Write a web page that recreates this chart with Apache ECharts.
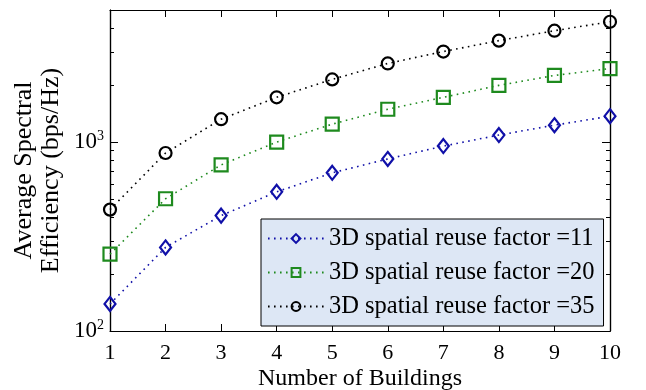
<!DOCTYPE html>
<html>
<head>
<meta charset="utf-8">
<script src="https://cdn.jsdelivr.net/npm/echarts@6/dist/echarts.min.js"></script>
<style>
  html, body { margin: 0; padding: 0; background: #fff; }
  #chart-container { width: 646px; height: 390px; }
</style>
</head>
<body>
<div id="chart-container"></div>
<script>
var buildings = [1, 2, 3, 4, 5, 6, 7, 8, 9, 10];
var seriesNames = ['3D spatial reuse factor =11', '3D spatial reuse factor =20', '3D spatial reuse factor =35'];
var reuse11 = [139, 277, 408, 545, 687, 814, 952, 1089, 1229, 1370];
var reuse20 = [255, 501, 757, 1000, 1244, 1492, 1725, 1995, 2252, 2450];
var reuse35 = [439, 875, 1321, 1725, 2146, 2606, 3013, 3442, 3885, 4334];
var yMajorTicks = [100, 1000];
var yMinorTicks = [200, 300, 400, 500, 600, 700, 800, 900, 2000, 3000, 4000, 5000];

var serif = 'Liberation Serif';
var dom = document.getElementById('chart-container');
var myChart = echarts.init(dom, null, { renderer: 'canvas' });

function pairs(ys) {
    return buildings.map(function (x, i) { return [x, ys[i]]; });
}

function yAxisDef(pos, ticks, len, withLabels) {
    return {
        type: 'log',
        position: pos,
        min: 100,
        max: 5000,
        logBase: 10,
        axisLine: { show: true, lineStyle: { color: '#000', width: 1.2 } },
        axisTick: { show: true, inside: true, length: len, customValues: ticks,
            lineStyle: { color: '#000', width: 1 } },
        splitLine: { show: false },
        minorTick: { show: false },
        axisLabel: withLabels ? {
            show: true,
            customValues: yMajorTicks,
            margin: 6,
            formatter: function (v) {
                return '{b|10}{s|' + Math.round(Math.log10(v)) + '}';
            },
            rich: {
                b: { fontFamily: serif, fontSize: 23, color: '#000', lineHeight: 26 },
                s: { fontFamily: serif, fontSize: 14, color: '#000', verticalAlign: 'top', lineHeight: 14 }
            }
        } : { show: false },
        name: withLabels ? 'Average Spectral\nEfficiency (bps/Hz)' : '',
        nameLocation: 'middle',
        nameMoveOverlap: false,
        nameGap: 45,
        nameTextStyle: { fontFamily: serif, fontSize: 26, color: '#000', lineHeight: 27 }
    };
}

function xAxisDef(pos, withLabels) {
    return {
        type: 'value',
        position: pos,
        min: 1,
        max: 10,
        interval: 1,
        axisLine: { show: true, lineStyle: { color: '#000', width: 1.2 } },
        axisTick: { show: true, inside: true, length: 7, lineStyle: { color: '#000', width: 1 } },
        splitLine: { show: false },
        axisLabel: withLabels ? { show: true, fontFamily: serif, fontSize: 22, color: '#000', margin: 11 } : { show: false },
        name: withLabels ? 'Number of Buildings' : '',
        nameLocation: 'middle',
        nameMoveOverlap: false,
        nameGap: 36,
        nameTextStyle: { fontFamily: serif, fontSize: 24, color: '#000' }
    };
}

function lineSeries(name, data, color, symbol, size) {
    return {
        name: name,
        type: 'line',
        xAxisIndex: 0,
        yAxisIndex: 0,
        data: pairs(data),
        symbol: symbol,
        symbolSize: size,
        showAllSymbol: true,
        color: color,
        lineStyle: { color: color, width: 1.6, type: [1.6, 4.4] },
        itemStyle: { color: 'rgba(255,255,255,0)', borderColor: color, borderWidth: 2.2 },
        emphasis: { disabled: true },
        z: 3
    };
}

var option = {
    animation: false,
    backgroundColor: '#fff',
    grid: { left: 110, right: 36, top: 10, bottom: 59, outerBoundsMode: 'none' },
    xAxis: [xAxisDef('bottom', true), xAxisDef('top', false)],
    yAxis: [
        yAxisDef('left', yMajorTicks, 8, true),
        yAxisDef('left', yMinorTicks, 4, false),
        yAxisDef('right', yMajorTicks, 8, false),
        yAxisDef('right', yMinorTicks, 4, false)
    ],
    legend: {
        orient: 'vertical',
        left: 261,
        top: 219,
        padding: [7, 9, 7, 6],
        itemWidth: 56,
        itemHeight: 11,
        itemGap: 9,
        backgroundColor: '#dde7f5',
        borderColor: '#000',
        borderWidth: 1,
        textStyle: { fontFamily: serif, fontSize: 24.5, color: '#000', lineHeight: 24 },
        data: seriesNames
    },
    series: [
        lineSeries(seriesNames[0], reuse11, '#1010a8', 'diamond', [11, 14]),
        lineSeries(seriesNames[1], reuse20, '#1e8a1e', 'rect', 13),
        lineSeries(seriesNames[2], reuse35, '#000000', 'circle', 12)
    ]
};

myChart.setOption(option);
window.addEventListener('resize', myChart.resize);
</script>
</body>
</html>
